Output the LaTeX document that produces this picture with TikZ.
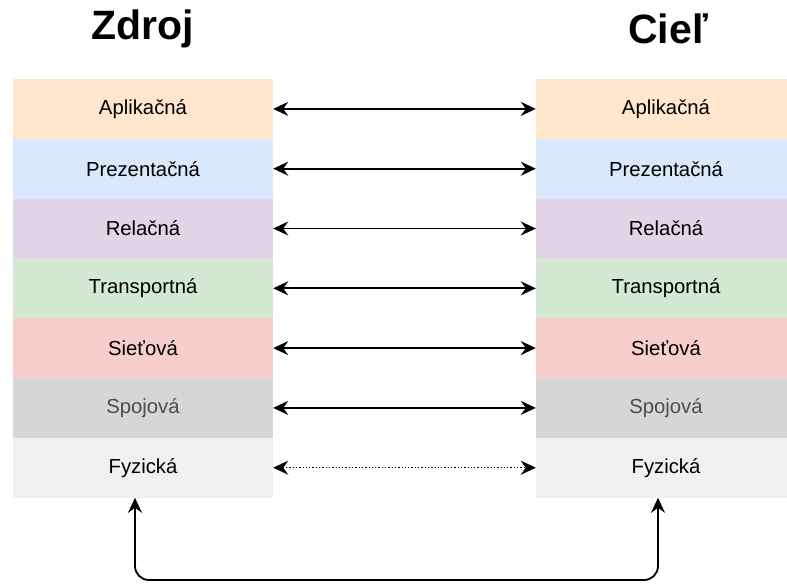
\documentclass[tikz,border=0pt]{standalone}
\usepackage{fontspec}
\setmainfont{Liberation Sans}
\usetikzlibrary{arrows.meta}

\definecolor{appfill}{HTML}{FFE6CC}
\definecolor{presfill}{HTML}{DAE8FC}
\definecolor{sessfill}{HTML}{E1D5E7}
\definecolor{transfill}{HTML}{D5E8D4}
\definecolor{netfill}{HTML}{F8CECC}
\definecolor{linkfill}{HTML}{D6D6D6}
\definecolor{linktext}{HTML}{4D4D4D}
\definecolor{physfill}{HTML}{F0F0F0}

\tikzset{
  layer/.style={rectangle, inner sep=0pt, minimum width=260pt, minimum height=59.8pt,
    font=\fontsize{20.3}{24}\selectfont, text=black},
  heading/.style={font=\fontsize{41}{46}\selectfont\bfseries},
  tip/.style={Stealth[length=15pt,width=14pt,inset=5pt]},
  link/.style={line width=1.8pt, {Stealth[length=15pt,width=14pt,inset=5pt]}-{Stealth[length=15pt,width=14pt,inset=5pt]}},
  uplink/.style={line width=1.8pt, rounded corners=14pt,
    {Stealth[length=15pt,width=14pt,inset=5pt]}-{Stealth[length=15pt,width=14pt,inset=5pt]}},
}

\begin{document}
\begin{tikzpicture}[x=1pt,y=-1pt]
  \clip (0,0) rectangle (787,584);
  \fill[white] (0,0) rectangle (787,584);

  % column headings
  \node[heading] (src) at (143,29) {Zdroj};
  \node[heading] (dst) at (668,29) {Cieľ};

  % source stack
  \node[layer, fill=appfill]   (sA) at (143,108.9) {Aplikačná};
  \node[layer, fill=presfill]  (sP) at (143,168.7) {Prezentačná};
  \node[layer, fill=sessfill]  (sR) at (143,228.5) {Relačná};
  \node[layer, fill=transfill] (sT) at (143,288.3) {Transportná};
  \node[layer, fill=netfill]   (sN) at (143,348.1) {Sieťová};
  \node[layer, fill=linkfill, text=linktext] (sL) at (143,407.9) {Spojová};
  \node[layer, fill=physfill]  (sF) at (143,467.7) {Fyzická};

  % destination stack
  \node[layer, fill=appfill]   (dA) at (666,108.9) {Aplikačná};
  \node[layer, fill=presfill]  (dP) at (666,168.7) {Prezentačná};
  \node[layer, fill=sessfill]  (dR) at (666,228.5) {Relačná};
  \node[layer, fill=transfill] (dT) at (666,288.3) {Transportná};
  \node[layer, fill=netfill]   (dN) at (666,348.1) {Sieťová};
  \node[layer, fill=linkfill, text=linktext] (dL) at (666,407.9) {Spojová};
  \node[layer, fill=physfill]  (dF) at (666,467.7) {Fyzická};

  % peer-to-peer links
  \draw[link] (sA.east) -- (dA.west);
  \draw[link] (sP.east) -- (dP.west);
  \draw[link] (sR.east) -- (dR.west);
  \draw[link] (sT.east) -- (dT.west);
  \draw[link] (sN.east) -- (dN.west);
  \draw[link] (sL.east) -- (dL.west);
  \draw[link, line width=1.3pt, dotted] (sF.east) -- (dF.west);

  % physical medium
  \coordinate (mL) at (135,580);
  \coordinate (mR) at (658,580);
  \draw[uplink] (sF.south -| mL) -- (mL) -- (mR) -- (dF.south -| mR);
\end{tikzpicture}
\end{document}
